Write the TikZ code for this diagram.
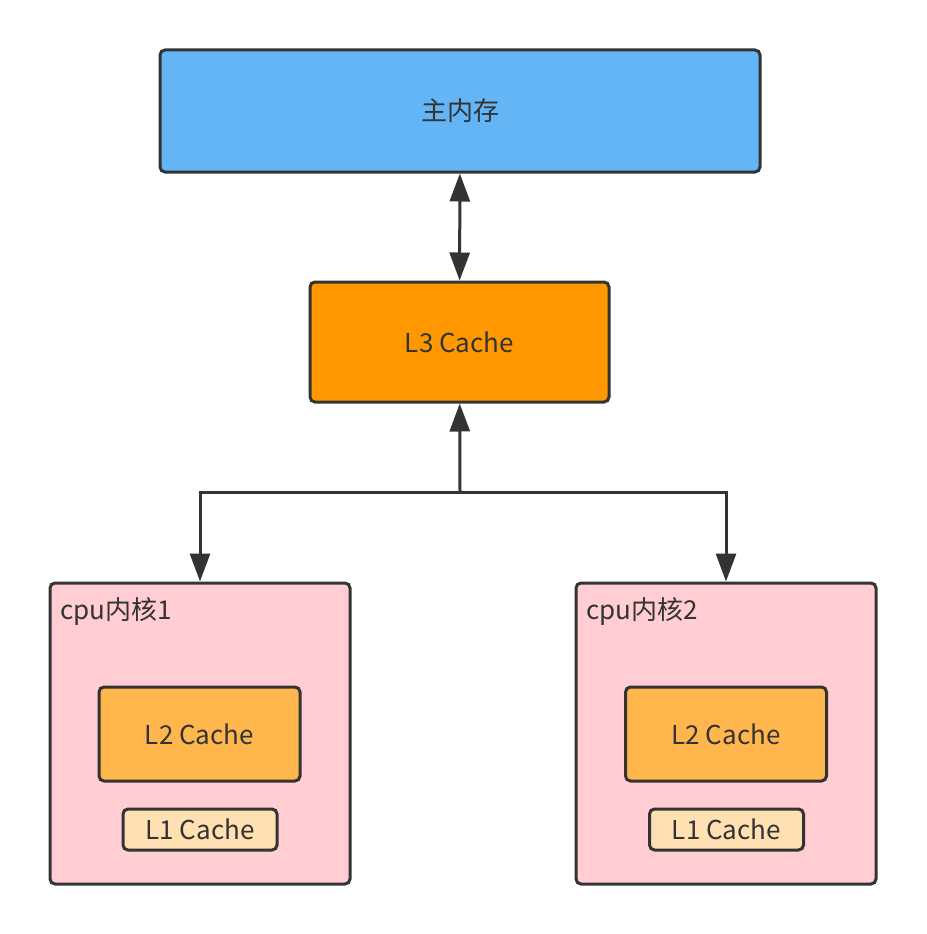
\documentclass[tikz,border=0pt]{standalone}
\usepackage{fontspec}
\setmainfont{Noto Sans CJK SC}
\usetikzlibrary{arrows.meta,calc,positioning}
\definecolor{trazo}{HTML}{333333}
\definecolor{azulmem}{HTML}{64B5F6}
\definecolor{naranja}{HTML}{FF9800}
\definecolor{rosa}{HTML}{FFCDD2}
\definecolor{naranjaclaro}{HTML}{FFB74D}
\definecolor{crema}{HTML}{FFE0B2}
\tikzset{
  caja/.style={
    rounded corners=5pt,
    draw=trazo,
    line width=3pt,
    text=trazo,
    inner sep=0pt,
    font=\fontsize{26}{30}\selectfont
  },
  nucleo/.style={
    caja,
    fill=rosa,
    minimum width=300pt,
    minimum height=301pt
  },
  arrow/.style={
    -{Triangle[length=28pt,width=20pt]},
    line width=3pt,
    trazo
  }
}
\begin{document}
\begin{tikzpicture}[x=1pt,y=-1pt]
\useasboundingbox (0,0) rectangle (926,934);
\node[caja,fill=azulmem,minimum width=600pt,minimum height=122pt] (mem) at (460,111) {\raisebox{-3pt}{主内存}};
\node[caja,fill=naranja,minimum width=299pt,minimum height=120pt] (l3) at (459.5,342) {\raisebox{-3pt}{L3 Cache}};
\node[nucleo] (cpu1) at (200,733.5) {};
\node[nucleo] (cpu2) at (726,733.5) {};
\node[caja,draw=none,fill=none,anchor=west] (t1) at (59,611) {cpu内核1};
\node[caja,draw=none,fill=none,anchor=west] (t2) at (585,611) {cpu内核2};
\node[caja,fill=naranjaclaro,minimum width=201pt,minimum height=94pt] (l2a) at (199.5,734) {\raisebox{-3pt}{L2 Cache}};
\node[caja,fill=crema,minimum width=154pt,minimum height=41pt] (l1a) at (200,829.5) {\raisebox{-2pt}{L1 Cache}};
\node[caja,fill=naranjaclaro,minimum width=201pt,minimum height=94pt] (l2b) at (726,734) {\raisebox{-3pt}{L2 Cache}};
\node[caja,fill=crema,minimum width=154pt,minimum height=41pt] (l1b) at (726.5,829.5) {\raisebox{-2pt}{L1 Cache}};
\coordinate (split) at (460,492);
\draw[arrow,{Triangle[length=28pt,width=20pt]}-{Triangle[length=28pt,width=20pt]}] (mem) -- (l3);
\draw[arrow] (split) -- (l3);
\draw[arrow] (split) -| (cpu1);
\draw[arrow] (split) -| (cpu2);
\end{tikzpicture}
\end{document}
